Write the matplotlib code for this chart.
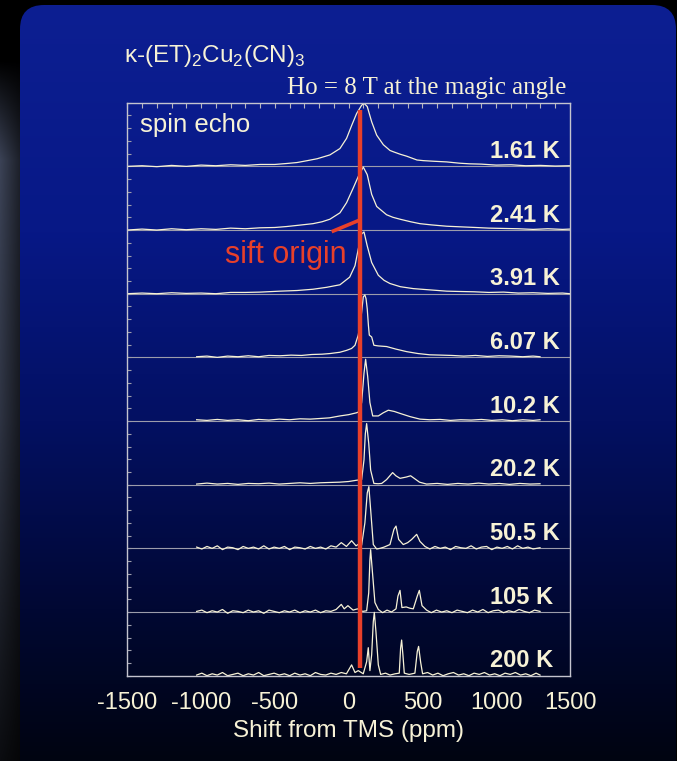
import numpy as np
import matplotlib.pyplot as plt
from matplotlib.patches import FancyBboxPatch
from matplotlib.colors import LinearSegmentedColormap
from matplotlib.ticker import MultipleLocator

plt.rcParams['font.family'] = ['Liberation Sans', 'DejaVu Sans']
plt.rcParams['mathtext.fontset'] = 'custom'
plt.rcParams['mathtext.rm'] = 'Liberation Sans'
plt.rcParams['axes.unicode_minus'] = False

# 13C NMR spectra, (shift ppm, normalised intensity) per temperature
t161 = [(-1500, 0.00), (-1400, 0.01), (-1300, -0.005), (-1200, 0.015), (-1100, 0.00), (-1000, 0.02),
        (-900, 0.01), (-800, 0.025), (-700, 0.015), (-600, 0.03), (-500, 0.03), (-420, 0.045),
        (-350, 0.06), (-280, 0.09), (-213, 0.12), (-127, 0.18), (-59, 0.28), (-14, 0.44), (20, 0.64),
        (54, 0.83), (88, 0.96), (104, 0.99), (126, 0.94), (156, 0.70), (190, 0.49), (235, 0.34),
        (280, 0.25), (302, 0.23), (350, 0.19), (393, 0.16), (463, 0.10), (506, 0.09), (580, 0.08),
        (664, 0.07), (750, 0.05), (820, 0.04), (900, 0.035), (1000, 0.02), (1100, 0.025), (1200, 0.01),
        (1300, 0.015), (1400, 0.005), (1500, 0.01)]
t241 = [(-1500, 0.00), (-1400, 0.015), (-1300, 0.00), (-1200, 0.02), (-1100, 0.005), (-1000, 0.02),
        (-900, 0.01), (-800, 0.03), (-700, 0.02), (-600, 0.035), (-500, 0.04), (-420, 0.055),
        (-340, 0.075), (-242, 0.10), (-180, 0.13), (-127, 0.17), (-59, 0.27), (-14, 0.43), (31, 0.66),
        (65, 0.84), (99, 0.99), (126, 0.87), (156, 0.56), (190, 0.37), (257, 0.24), (300, 0.20),
        (348, 0.17), (420, 0.13), (483, 0.10), (564, 0.08), (664, 0.06), (760, 0.05), (860, 0.04),
        (950, 0.03), (1050, 0.025), (1150, 0.02), (1250, 0.01), (1350, 0.02), (1450, 0.01), (1500, 0.015)]
t391 = [(-1500, 0.00), (-1400, 0.01), (-1300, 0.00), (-1200, 0.015), (-1100, 0.005), (-1000, 0.01),
        (-900, 0.00), (-800, 0.02), (-700, 0.02), (-600, 0.025), (-465, 0.04), (-350, 0.05),
        (-242, 0.07), (-150, 0.10), (-59, 0.14), (7, 0.26), (43, 0.44), (65, 0.70), (88, 0.94),
        (104, 0.97), (126, 0.75), (156, 0.49), (201, 0.29), (240, 0.21), (280, 0.16), (350, 0.11),
        (438, 0.08), (550, 0.06), (664, 0.04), (750, 0.035), (850, 0.03), (950, 0.02), (1050, 0.025),
        (1150, 0.01), (1250, 0.015), (1350, 0.005), (1450, 0.01), (1500, 0.00)]
t607 = [(-1030, 0.01), (-960, 0.02), (-890, 0.00), (-820, 0.02), (-750, 0.01), (-680, 0.025),
        (-610, 0.01), (-540, 0.03), (-465, 0.025), (-390, 0.035), (-320, 0.03), (-250, 0.045),
        (-180, 0.05), (-127, 0.06), (-60, 0.08), (-14, 0.11), (20, 0.14), (43, 0.19), (65, 0.35),
        (80, 0.55), (88, 0.71), (99, 0.95), (110, 0.98), (118, 0.92), (126, 0.76), (134, 0.50),
        (140, 0.35), (156, 0.32), (171, 0.19), (200, 0.18), (257, 0.17), (320, 0.13), (393, 0.09),
        (470, 0.06), (551, 0.04), (630, 0.035), (700, 0.03), (780, 0.02), (860, 0.03), (940, 0.015),
        (1020, 0.025), (1100, 0.02), (1180, 0.01), (1250, 0.02), (1297, 0.01)]
t102 = [(-1030, 0.02), (-960, 0.01), (-890, 0.025), (-820, 0.01), (-750, 0.02), (-680, 0.005),
        (-610, 0.025), (-540, 0.015), (-470, 0.03), (-400, 0.02), (-330, 0.035), (-260, 0.03),
        (-194, 0.04), (-130, 0.05), (-59, 0.08), (0, 0.10), (54, 0.13), (75, 0.15), (88, 0.29),
        (104, 0.75), (115, 0.97), (129, 0.70), (144, 0.29), (163, 0.08), (201, 0.08), (235, 0.13),
        (269, 0.17), (310, 0.15), (348, 0.12), (415, 0.07), (483, 0.03), (550, 0.02), (620, 0.025),
        (690, 0.01), (760, 0.02), (830, 0.015), (900, 0.025), (970, 0.01), (1040, 0.02), (1110, 0.005),
        (1180, 0.02), (1250, 0.01), (1297, 0.02)]
t202 = [(-1030, 0.01), (-960, 0.025), (-890, 0.01), (-820, 0.02), (-750, 0.005), (-680, 0.02),
        (-610, 0.015), (-540, 0.025), (-470, 0.01), (-400, 0.02), (-330, 0.03), (-260, 0.02),
        (-194, 0.03), (-130, 0.035), (-59, 0.04), (0, 0.05), (54, 0.07), (88, 0.08), (104, 0.39),
        (113, 0.80), (122, 0.96), (136, 0.65), (149, 0.23), (171, 0.02), (200, 0.015), (224, 0.02),
        (257, 0.08), (298, 0.19), (320, 0.14), (348, 0.10), (390, 0.12), (420, 0.14), (450, 0.09),
        (480, 0.04), (528, 0.01), (600, 0.02), (670, 0.005), (740, 0.02), (810, 0.01), (880, 0.025),
        (950, 0.01), (1020, 0.02), (1090, 0.005), (1160, 0.02), (1230, 0.01), (1297, 0.015)]
t505 = [(-1030, 0.02), (-995, -0.01), (-960, 0.03), (-925, 0.00), (-890, 0.04), (-855, -0.02),
        (-820, 0.02), (-785, 0.01), (-750, -0.02), (-715, 0.03), (-680, 0.00), (-645, 0.02),
        (-610, -0.01), (-575, 0.04), (-540, -0.01), (-505, 0.02), (-470, 0.00), (-435, 0.03),
        (-400, -0.02), (-365, 0.02), (-330, 0.01), (-295, -0.01), (-260, 0.03), (-225, 0.00),
        (-190, 0.02), (-155, -0.01), (-120, 0.04), (-85, 0.02), (-50, 0.09), (-15, 0.03), (20, 0.12),
        (50, 0.04), (70, 0.07), (88, 0.05), (110, 0.40), (126, 0.87), (137, 0.97), (149, 0.61),
        (167, 0.06), (190, -0.01), (212, 0.00), (240, 0.02), (280, 0.06), (307, 0.30), (321, 0.35),
        (339, 0.14), (370, 0.06), (400, 0.09), (427, 0.14), (461, 0.22), (483, 0.11), (517, 0.03),
        (550, -0.01), (585, 0.03), (620, 0.00), (655, 0.02), (690, -0.02), (725, 0.03), (760, 0.01),
        (795, 0.00), (830, 0.04), (865, -0.01), (900, 0.02), (935, 0.03), (970, -0.02), (1005, 0.02),
        (1040, 0.00), (1075, 0.03), (1110, -0.01), (1145, 0.04), (1180, 0.00), (1215, 0.02),
        (1250, -0.01), (1297, 0.01)]
t105 = [(-1030, 0.01), (-995, 0.03), (-960, -0.01), (-925, 0.02), (-890, 0.00), (-855, 0.04),
        (-820, -0.02), (-785, 0.02), (-750, 0.01), (-715, -0.01), (-680, 0.03), (-645, 0.00),
        (-610, 0.02), (-575, -0.02), (-540, 0.03), (-505, 0.01), (-470, -0.01), (-435, 0.02),
        (-400, 0.00), (-365, 0.03), (-330, -0.01), (-295, 0.02), (-260, 0.00), (-225, 0.03),
        (-190, -0.01), (-155, 0.02), (-120, 0.01), (-85, 0.04), (-50, 0.12), (-30, 0.05), (-5, 0.10),
        (30, 0.03), (60, 0.05), (95, 0.01), (122, 0.02), (136, 0.30), (144, 0.82), (149, 0.98),
        (160, 0.66), (178, 0.15), (201, 0.04), (230, -0.01), (260, 0.03), (290, 0.00), (321, 0.05),
        (334, 0.25), (348, 0.34), (361, 0.07), (390, 0.08), (415, 0.06), (438, 0.05), (465, 0.25),
        (479, 0.34), (497, 0.10), (528, 0.03), (560, -0.01), (595, 0.03), (630, 0.00), (665, 0.02),
        (700, -0.01), (735, 0.03), (770, 0.01), (805, -0.01), (840, 0.03), (875, 0.00), (910, 0.04),
        (945, -0.01), (980, 0.02), (1015, 0.03), (1050, -0.01), (1085, 0.02), (1120, 0.00),
        (1155, 0.04), (1190, 0.01), (1225, -0.01), (1260, 0.03), (1297, 0.01)]
t200 = [(-1030, 0.01), (-995, 0.04), (-960, 0.00), (-925, 0.03), (-890, 0.01), (-855, 0.05),
        (-820, 0.00), (-785, 0.02), (-750, 0.04), (-715, 0.00), (-680, 0.03), (-645, 0.01),
        (-610, 0.05), (-575, 0.00), (-540, 0.02), (-505, 0.04), (-470, 0.01), (-435, 0.03),
        (-400, 0.00), (-365, 0.04), (-330, 0.01), (-295, 0.03), (-260, 0.00), (-225, 0.05),
        (-190, 0.02), (-155, 0.01), (-120, 0.04), (-85, 0.02), (-50, 0.05), (-15, 0.03), (20, 0.17),
        (43, 0.05), (65, 0.08), (99, 0.03), (122, 0.22), (133, 0.44), (144, 0.08), (156, 0.33),
        (167, 0.85), (174, 0.995), (185, 0.69), (201, 0.17), (217, 0.02), (250, 0.04), (280, 0.01),
        (315, 0.03), (343, 0.04), (352, 0.43), (359, 0.56), (368, 0.32), (377, 0.04), (410, 0.02),
        (449, 0.04), (465, 0.38), (474, 0.46), (488, 0.21), (501, 0.03), (535, 0.05), (570, 0.01),
        (605, 0.04), (640, 0.00), (675, 0.03), (710, 0.05), (745, 0.01), (780, 0.03), (815, 0.00),
        (850, 0.04), (885, 0.02), (920, 0.05), (955, 0.01), (990, 0.03), (1025, 0.00), (1060, 0.04),
        (1095, 0.02), (1130, 0.05), (1165, 0.01), (1200, 0.03), (1235, 0.00), (1270, 0.04), (1297, 0.01)]

spectra = [t161, t241, t391, t607, t102, t202, t505, t105, t200]
temps = ['1.61 K', '2.41 K', '3.91 K', '6.07 K', '10.2 K', '20.2 K', '50.5 K', '105 K', '200 K']
x_ticks = [-1500, -1000, -500, 0, 500, 1000, 1500]
origin_ppm = 78

cream = '#f7f2d6'
red = '#e8402a'

fig = plt.figure(figsize=(6.77, 7.61), dpi=100)
fig.patch.set_facecolor('black')

# slide background
bg = fig.add_axes([0, 0, 1, 1], zorder=0)
glow = np.zeros((761, 20, 4))
rows = np.arange(761)
cols = np.arange(20)
a_row = np.interp(rows, [0, 60, 160, 420, 761], [0.0, 0.0, 0.65, 0.5, 0.12])
a_col = np.interp(cols, [0, 19], [1.0, 0.5])
glow[..., 0] = 0.36
glow[..., 1] = 0.40
glow[..., 2] = 0.52
glow[..., 3] = a_row[:, None] * a_col[None, :]
bg.imshow(glow, extent=(0, 20, 761, 0), aspect='auto', interpolation='bilinear')

slide = FancyBboxPatch((20, 5), 656, 820, boxstyle='round,pad=0,rounding_size=24',
                       facecolor='none', edgecolor='none', transform=bg.transData)
bg.add_patch(slide)
cmap = LinearSegmentedColormap.from_list(
    'slide', [(0, '#0d1f92'), (0.3, '#071886'), (0.55, '#031062'), (0.8, '#010833'), (1, '#000411')])
grad = np.linspace(0, 1, 256).reshape(-1, 1)
im = bg.imshow(grad, cmap=cmap, extent=(20, 676, 761, 5), aspect='auto', interpolation='bilinear')
im.set_clip_path(slide)
bg.set_xlim(0, 677)
bg.set_ylim(761, 0)
bg.axis('off')

# stacked spectra
ax = fig.add_axes([127.3 / 677, 1 - 675.7 / 761, 442.7 / 677, 573 / 761], zorder=2)
ax.set_facecolor('none')
ax.set_xlim(-1500, 1500)
ax.set_ylim(0, 9)

for k in range(1, 9):
    ax.axhline(k, color='#9c9cab', lw=0.8, zorder=1)

label_x = [1432, 1432, 1432, 1432, 1432, 1432, 1432, 1384, 1384]
for i, (pts, name) in enumerate(zip(spectra, temps)):
    off = 8 - i
    ax.plot([p for p, _ in pts], [off + a for _, a in pts], color=cream, lw=0.9, zorder=2)
    ax.text(label_x[i], off + 0.13, name, ha='right', va='baseline',
            fontsize=17, fontweight='bold', color=cream, zorder=4)

# shift origin marker
ax.plot([origin_ppm, origin_ppm], [0.12, 8.885], color=red, lw=3.2, solid_capstyle='butt', zorder=3)
ax.plot([-115, origin_ppm], [6.974, 7.16], color=red, lw=2.6, solid_capstyle='butt', zorder=3)
ax.text(-425, 6.48, 'sift origin', ha='center', va='baseline', fontsize=22, color=red, zorder=4)
ax.text(-1415, 8.54, 'spin echo', ha='left', va='baseline', fontsize=18.5, color=cream)

for s in ax.spines.values():
    s.set_color('#c4c4cf')
    s.set_linewidth(1.0)

ax.set_xticks(x_ticks)
ax.tick_params(axis='x', which='major', length=0, pad=12, labelsize=17, labelcolor=cream)
ax.set_yticks(np.arange(0, 9.01, 0.2))
ax.tick_params(axis='y', which='major', direction='in', length=3, width=0.8, color='#9c9cab',
               labelleft=False)
top = ax.secondary_xaxis('top')
top.xaxis.set_major_locator(MultipleLocator(100))
top.tick_params(direction='in', length=3.5, width=0.8, color='#b4b4c0', labeltop=False)
top.spines['top'].set_visible(False)

ax.set_xlabel('Shift from TMS (ppm)', fontsize=17.5, color=cream, labelpad=4)

fig.text(124 / 677, 1 - 62 / 761, r'κ-(ET)$_2$Cu$_2$(CN)$_3$', fontsize=17.5, color=cream,
         ha='left', va='baseline')
fig.text(566 / 677, 1 - 94 / 761, 'Ho = 8 T at the magic angle', fontsize=18, color=cream,
         family='Liberation Serif', ha='right', va='baseline')

fig.savefig('out.png', dpi=100, facecolor=fig.get_facecolor())
